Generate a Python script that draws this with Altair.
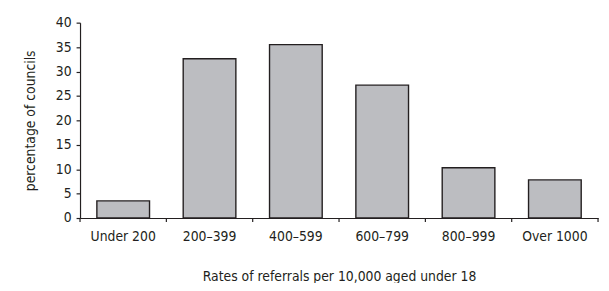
import altair as alt
import pandas as pd

categories = ["Under 200", "200–399", "400–599", "600–799", "800–999", "Over 1000"]
percent = [3.5, 32.6, 35.5, 27.2, 10.3, 7.8]

df = pd.DataFrame({"band": categories, "pct": percent})

FONT = "DejaVu Sans Condensed, Liberation Sans Narrow, Noto Sans, sans-serif"
INK = "#231f20"

x_enc = alt.X(
    "band:N",
    sort=categories,
    scale=alt.Scale(paddingInner=0, paddingOuter=0),
    axis=alt.Axis(
        title="Rates of referrals per 10,000 aged under 18",
        labelAngle=0,
        ticks=False,
        labelPadding=12,
        titlePadding=26,
        domainColor=INK,
        domainWidth=1.2,
    ),
)

bars = alt.Chart(df).mark_bar(
    width=alt.RelativeBandSize(0.61),
    fill="#bcbdc1",
    stroke=INK,
    strokeWidth=1.4,
).encode(
    x=x_enc,
    y=alt.Y(
        "pct:Q",
        scale=alt.Scale(domain=[0, 40], nice=False),
        axis=alt.Axis(
            title="percentage of councils",
            values=[0, 5, 10, 15, 20, 25, 30, 35, 40],
            tickSize=4,
            tickColor=INK,
            tickWidth=1.2,
            domainColor=INK,
            domainWidth=1.2,
            labelPadding=5,
            titlePadding=18,
            grid=False,
        ),
    ),
)

ticks_start = alt.Chart(df).mark_rule(color=INK, strokeWidth=1.2).encode(
    x=alt.X("band:N", sort=categories, bandPosition=0),
    y=alt.value(198),
    y2=alt.value(202),
)

ticks_end = alt.Chart(df[df["band"] == categories[-1]]).mark_rule(color=INK, strokeWidth=1.2).encode(
    x=alt.X("band:N", sort=categories, bandPosition=1),
    y=alt.value(198),
    y2=alt.value(202),
)

chart = (
    alt.layer(bars, ticks_start, ticks_end)
    .properties(
        width=525,
        height=198,
        autosize=alt.AutoSizeParams(type="none"),
        padding={"left": 73, "top": 13, "right": 3, "bottom": 64},
    )
    .configure_view(strokeWidth=0)
    .configure_axis(
        labelFont=FONT,
        titleFont=FONT,
        labelFontSize=14,
        titleFontSize=14,
        titleFontWeight="normal",
        labelColor=INK,
        titleColor=INK,
    )
)

chart.save("out.html", embed_options={"renderer": "svg", "actions": False})
